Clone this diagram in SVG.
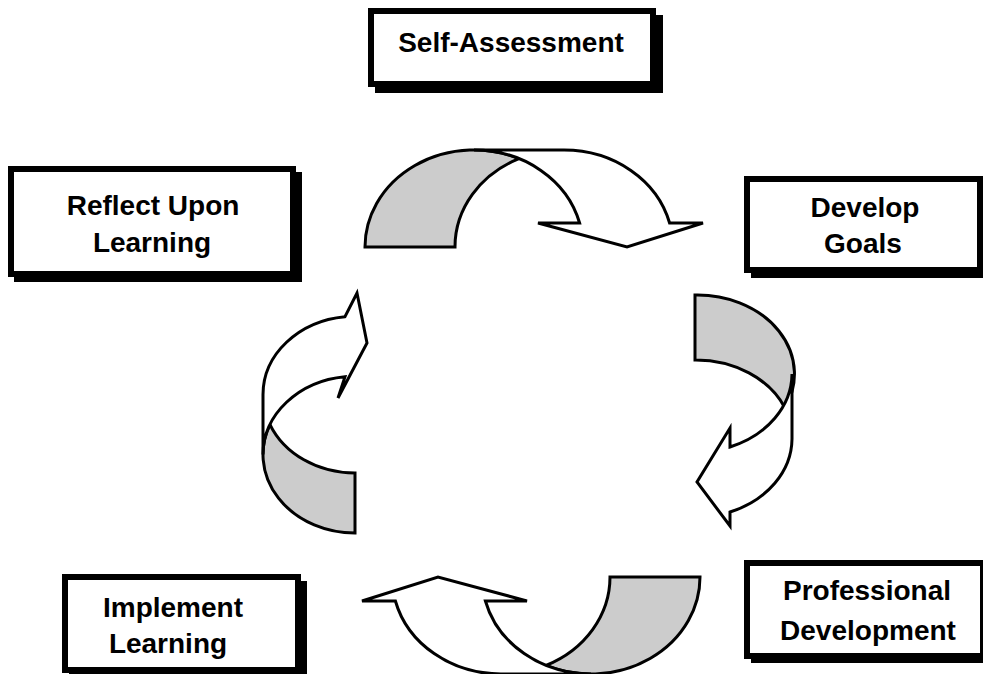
<svg xmlns="http://www.w3.org/2000/svg" width="983" height="674" viewBox="0 0 983 674">
<style>
.shadow{fill:#000}
.box{fill:#fff;stroke:#000;stroke-width:6}
.lbl{font-family:"Liberation Sans",Arial,sans-serif;font-weight:bold;font-size:28px;fill:#000;text-anchor:middle}
.back{fill:#cccccc;stroke:#000;stroke-width:3;stroke-linejoin:miter}
.front{fill:#fff;stroke:#000;stroke-width:3;stroke-linejoin:miter}
</style>
<rect width="983" height="674" fill="#fff"/>
<g id="connectors">
  <g id="arrow-top">
    <path class="back" d="M365,247 A109,97 0 0 1 519,158.6 A109,97 0 0 0 455,247 Z"/>
    <path class="front" d="M474,150 L564,150 A109,97 0 0 1 669.6,223 L703,223 L627,247 L538,223 L579.6,223 A109,97 0 0 0 474,150 Z"/>
  </g>
  <g id="arrow-bottom" transform="rotate(180 532.5 412)">
    <path class="back" d="M365,247 A109,97 0 0 1 519,158.6 A109,97 0 0 0 455,247 Z"/>
    <path class="front" d="M474,150 L564,150 A109,97 0 0 1 669.6,223 L703,223 L627,247 L538,223 L579.6,223 A109,97 0 0 0 474,150 Z"/>
  </g>
  <g id="arrow-right">
    <path class="back" d="M695,295 A97,79 0 0 1 785,408 A97,79 0 0 0 695,360 Z"/>
    <path class="front" d="M792,374 L792,439 A97,79 0 0 1 730,512 L730,526 L697,482 L730,428 L730,447 A97,79 0 0 0 792,374 Z"/>
  </g>
  <g id="arrow-left">
    <path class="back" d="M355,533 A92,78.4 0 0 1 270,424.6 A92,78.4 0 0 0 355,473 Z"/>
    <path class="front" d="M263,454.6 L263,394.6 A92,78.4 0 0 1 345,316.7 L357,293 L367,343 L338,398 L345,376.7 A92,78.4 0 0 0 263,454.6 Z"/>
  </g>
</g>
<g id="node-self-assessment">
  <rect class="shadow" x="375" y="15" width="288" height="78"/>
  <rect class="box" x="371" y="11" width="282" height="73"/>
  <text class="lbl" x="511" y="52">Self-Assessment</text>
</g>
<g id="node-reflect">
  <rect class="shadow" x="14" y="172" width="288" height="110"/>
  <rect class="box" x="11" y="169" width="282" height="105"/>
  <text class="lbl" x="153" y="215">Reflect Upon</text>
  <text class="lbl" x="152" y="252">Learning</text>
</g>
<g id="node-develop">
  <rect class="shadow" x="751" y="183" width="240" height="95"/>
  <rect class="box" x="747" y="179" width="233" height="91"/>
  <text class="lbl" x="865" y="217">Develop</text>
  <text class="lbl" x="863" y="253">Goals</text>
</g>
<g id="node-professional">
  <rect class="shadow" x="751" y="567" width="240" height="96"/>
  <rect class="box" x="747" y="563" width="236" height="93"/>
  <text class="lbl" x="867" y="600">Professional</text>
  <text class="lbl" x="868" y="640">Development</text>
</g>
<g id="node-implement">
  <rect class="shadow" x="69" y="581" width="238" height="96"/>
  <rect class="box" x="65" y="577" width="233" height="93"/>
  <text class="lbl" x="173" y="617">Implement</text>
  <text class="lbl" x="168" y="653">Learning</text>
</g>
</svg>
